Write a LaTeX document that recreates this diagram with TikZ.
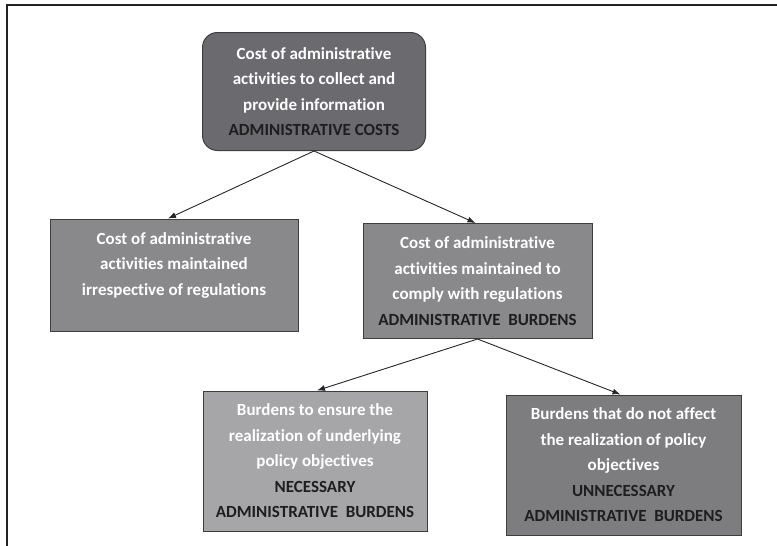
\documentclass[tikz,border=0pt]{standalone}
\usepackage{fontspec}
\setmainfont{Carlito}[Ligatures=NoCommon]
\usepackage{tikz}
\usepackage{xcolor}
\usetikzlibrary{arrows.meta}
\definecolor{framecol}{HTML}{222222}
\definecolor{boxline}{HTML}{3E3E40}
\definecolor{topfill}{HTML}{6B6B6F}
\definecolor{midfill}{HTML}{89898C}
\definecolor{needfill}{HTML}{A6A6A8}
\definecolor{noneedfill}{HTML}{7D7D80}
\definecolor{txtdark}{HTML}{1E1E1E}
\newcommand{\lowgap}[1]{\rule[-#1]{0pt}{#1}}
\newcommand{\capsline}[1]{{\color{txtdark}#1}}
\tikzset{
  costbox/.style={draw=boxline,line width=1pt,text=white,align=center,inner sep=0pt,
    font=\bfseries\fontsize{17}{25.5}\selectfont},
  arrowline/.style={draw=black!85,line width=0.9pt,-{Latex[length=8pt,width=6pt]}}
}

\begin{document}
\begin{tikzpicture}[x=1pt,y=-1pt]
\useasboundingbox (0,0) rectangle (777,546);

% frame
\draw[line width=2pt,framecol] (6.5,546) -- (6.5,4.5) -- (777,4.5);

% boxes
\node[costbox,fill=topfill,rounded corners=15pt,minimum width=223pt,minimum height=118pt]
  (admcost) at (314,91.5) {Cost of administrative\\activities to collect and\\provide information\\\capsline{ADMINISTRATIVE COSTS}};
\node[costbox,fill=midfill,minimum width=248pt,minimum height=112pt]
  (irrespective) at (174,275) {Cost of administrative\\activities maintained\\irrespective of regulations\lowgap{22pt}};
\node[costbox,fill=midfill,minimum width=229pt,minimum height=115pt]
  (admburden) at (477.5,281) {Cost of administrative\\activities maintained to\\comply with regulations\\\capsline{ADMINISTRATIVE\ \ BURDENS}};
\node[costbox,fill=needfill,minimum width=224pt,minimum height=140pt]
  (necessary) at (315,461) {Burdens to ensure the\\realization of underlying\\policy objectives\\\capsline{NECESSARY}\\\capsline{ADMINISTRATIVE\ \ BURDENS}};
\node[costbox,fill=noneedfill,minimum width=235pt,minimum height=140pt]
  (unnecessary) at (623.5,465) {Burdens that do not affect\\the realization of policy\\objectives\\\capsline{UNNECESSARY}\\\capsline{ADMINISTRATIVE\ \ BURDENS}};

% arrows
\draw[arrowline] (admcost.south) -- ([xshift=-6pt]irrespective.north);
\draw[arrowline] (admcost.south) -- ([xshift=-2pt]admburden.north);
\draw[arrowline] (admburden.south) -- ([xshift=2pt]necessary.north);
\draw[arrowline] (admburden.south) -- ([xshift=-3pt]unnecessary.north);

\end{tikzpicture}
\end{document}
